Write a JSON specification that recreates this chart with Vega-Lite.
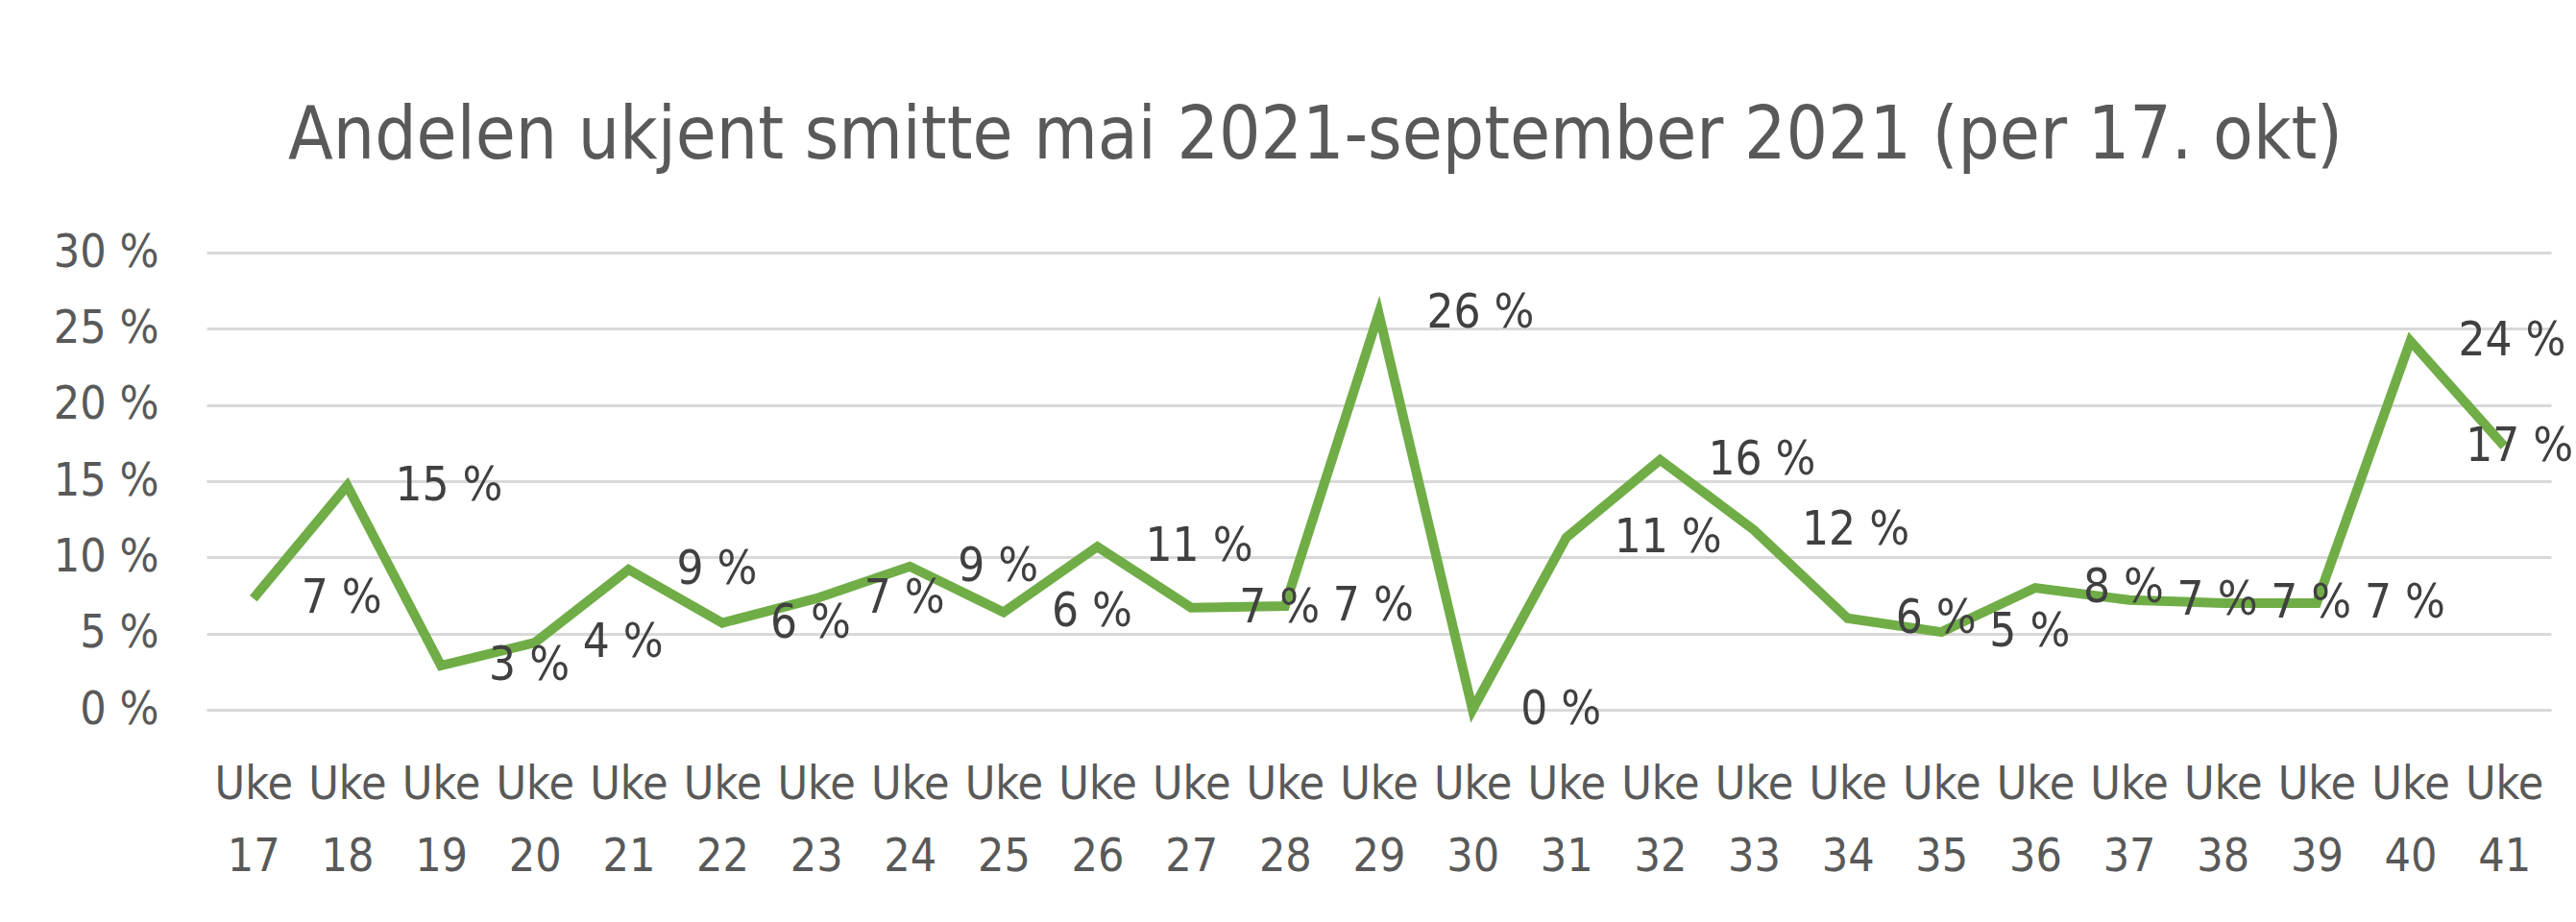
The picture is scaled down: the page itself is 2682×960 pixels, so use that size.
{
  "$schema": "https://vega.github.io/schema/vega-lite/v6.json",
  "width": 2441,
  "height": 476,
  "autosize": {"type": "none"},
  "padding": {"left": 215, "top": 263, "right": 26, "bottom": 221},
  "background": "white",
  "title": {
    "text": "Andelen ukjent smitte mai 2021-september 2021 (per 17. okt)",
    "font": "DejaVu Sans Condensed, Liberation Sans, sans-serif",
    "fontSize": 76,
    "fontWeight": "normal",
    "color": "#595959",
    "anchor": "middle",
    "baseline": "alphabetic",
    "dx": -66,
    "offset": -2
  },
  "data": {
    "values": [
      {"uke": 17, "andel": 7.3, "label": "7 %"},
      {"uke": 18, "andel": 14.7, "label": "15 %"},
      {"uke": 19, "andel": 2.9, "label": "3 %"},
      {"uke": 20, "andel": 4.4, "label": "4 %"},
      {"uke": 21, "andel": 9.2, "label": "9 %"},
      {"uke": 22, "andel": 5.7, "label": "6 %"},
      {"uke": 23, "andel": 7.3, "label": "7 %"},
      {"uke": 24, "andel": 9.4, "label": "9 %"},
      {"uke": 25, "andel": 6.4, "label": "6 %"},
      {"uke": 26, "andel": 10.7, "label": "11 %"},
      {"uke": 27, "andel": 6.7, "label": "7 %"},
      {"uke": 28, "andel": 6.8, "label": "7 %"},
      {"uke": 29, "andel": 26.0, "label": "26 %"},
      {"uke": 30, "andel": 0.0, "label": "0 %"},
      {"uke": 31, "andel": 11.3, "label": "11 %"},
      {"uke": 32, "andel": 16.4, "label": "16 %"},
      {"uke": 33, "andel": 11.8, "label": "12 %"},
      {"uke": 34, "andel": 6.0, "label": "6 %"},
      {"uke": 35, "andel": 5.1, "label": "5 %"},
      {"uke": 36, "andel": 8.0, "label": "8 %"},
      {"uke": 37, "andel": 7.2, "label": "7 %"},
      {"uke": 38, "andel": 7.0, "label": "7 %"},
      {"uke": 39, "andel": 7.0, "label": "7 %"},
      {"uke": 40, "andel": 24.2, "label": "24 %"},
      {"uke": 41, "andel": 17.3, "label": "17 %"}
    ]
  },
  "encoding": {
    "x": {
      "field": "uke",
      "type": "ordinal",
      "scale": {"type": "point", "padding": 0.5},
      "axis": {
        "title": null,
        "domain": false,
        "ticks": false,
        "grid": false,
        "labelAngle": 0,
        "labelExpr": "['Uke', datum.label]",
        "labelFont": "DejaVu Sans Condensed, Liberation Sans, sans-serif",
        "labelFontSize": 48,
        "labelLineHeight": 75,
        "labelColor": "#595959",
        "labelBaseline": "top",
        "labelPadding": 54
      }
    },
    "y": {
      "field": "andel",
      "type": "quantitative",
      "scale": {"domain": [0, 30], "nice": false, "zero": true},
      "axis": {
        "title": null,
        "values": [0, 5, 10, 15, 20, 25, 30],
        "domain": false,
        "ticks": false,
        "grid": true,
        "gridColor": "#D9D9D9",
        "gridWidth": 3,
        "labelExpr": "datum.label + ' %'",
        "labelFont": "DejaVu Sans Condensed, Liberation Sans, sans-serif",
        "labelFontSize": 48,
        "labelColor": "#595959",
        "labelPadding": 50
      }
    }
  },
  "layer": [
    {
      "mark": {"type": "line", "color": "#70AD47", "strokeWidth": 10}
    },
    {
      "transform": [{"filter": "datum.uke != 41"}],
      "mark": {
        "type": "text",
        "align": "left",
        "baseline": "middle",
        "dx": 50,
        "font": "DejaVu Sans Condensed, Liberation Sans, sans-serif",
        "fontSize": 49,
        "color": "#404040"
      },
      "encoding": {"text": {"field": "label"}}
    },
    {
      "transform": [{"filter": "datum.uke == 41"}],
      "mark": {
        "type": "text",
        "align": "right",
        "baseline": "middle",
        "dx": 72,
        "font": "DejaVu Sans Condensed, Liberation Sans, sans-serif",
        "fontSize": 49,
        "color": "#404040"
      },
      "encoding": {"text": {"field": "label"}}
    }
  ],
  "config": {"view": {"stroke": null}}
}
